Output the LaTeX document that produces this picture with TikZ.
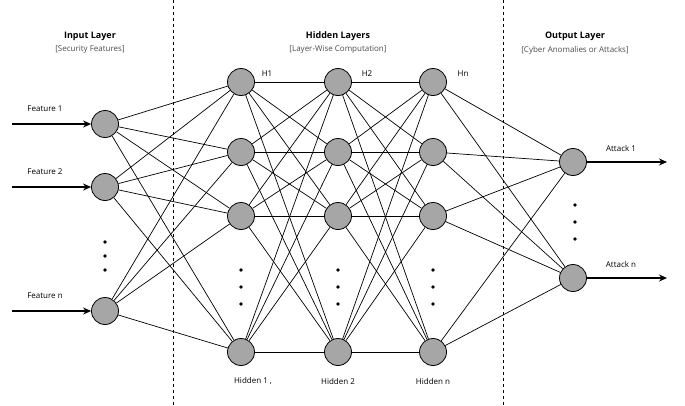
\documentclass[tikz,border=0pt]{standalone}
\usepackage{fontspec}
\setmainfont{Open Sans}
\usetikzlibrary{arrows.meta}
\begin{document}
\begin{tikzpicture}[x=1pt,y=-1pt,
  neuron/.style={circle,draw=black,fill=gray!70,line width=0.8pt,minimum size=27pt,inner sep=0pt},
  conn/.style={line width=0.7pt},
  inarrow/.style={line width=1.2pt,-{Stealth[length=8pt,width=7pt]}},
  lbl/.style={font=\fontsize{8}{9}\selectfont},
  head/.style={font=\fontsize{9}{10}\selectfont\bfseries},
  sub/.style={font=\fontsize{8}{9}\selectfont,text=black!70},
  dot/.style={circle,fill=black,inner sep=1.3pt}]
\useasboundingbox (0,0) rectangle (685,405);
\draw[dashed,line width=0.6pt] (173,0) -- (173,405);
\draw[dashed,line width=0.6pt] (503,0) -- (503,405);
\node[head] (t1) at (90,36) {Input Layer};
\node[sub] (s1) at (90,50) {[Security Features]};
\node[head] (t2) at (338,36) {Hidden Layers};
\node[sub] (s2) at (338,50) {[Layer-Wise Computation]};
\node[head] (t3) at (575,36) {Output Layer};
\node[sub] (s3) at (575,50) {[Cyber Anomalies or Attacks]};
% nodes
\foreach \n/\y in {1/124,2/187,3/311} \node[neuron] (i\n) at (105,\y) {};
\foreach \L/\x in {a/241,b/338,c/433}
  \foreach \n/\y in {1/82,2/152,3/216,4/352} \node[neuron] (\L\n) at (\x,\y) {};
\foreach \n/\y in {1/162,2/278} \node[neuron] (o\n) at (573,\y) {};
% connections
\begin{scope}[on background layer/.style={}]
\foreach \i in {1,2,3} \foreach \j in {1,2,3,4} \draw[conn] (i\i) -- (a\j);
\foreach \i in {1,2,3,4} \foreach \j in {1,2,3,4} {\draw[conn] (a\i) -- (b\j); \draw[conn] (b\i) -- (c\j);}
\foreach \i in {1,2,3,4} \foreach \j in {1,2} \draw[conn] (c\i) -- (o\j);
\end{scope}
% inputs
\foreach \n/\y/\t in {1/124/Feature 1,2/187/Feature 2,3/311/Feature n}{
  \coordinate (f\n) at (12,\y);
  \draw[inarrow] (f\n) -- (i\n);
  \node[lbl] (fl\n) at (45,\y-15) {\t};
}
\foreach \n/\y/\t in {1/162/Attack 1,2/278/Attack n}{
  \coordinate (e\n) at (667,\y);
  \draw[inarrow] (o\n) -- (e\n);
  \node[lbl] (al\n) at (621,\y-14) {\t};
}
% dots
\foreach \y [count=\k] in {242,256,270} \node[dot] (di\k) at (105,\y) {};
\foreach \x/\L in {241/a,338/b,433/c} \foreach \y [count=\k] in {270,287,304} \node[dot] (d\L\k) at (\x,\y) {};
\foreach \y [count=\k] in {205,222,239} \node[dot] (do\k) at (575,\y) {};
% labels
\node[lbl] (h1) at (267,74) {H1};
\node[lbl] (h2) at (367,74) {H2};
\node[lbl] (h3) at (463,74) {Hn};
\node[lbl] (hh1) at (253,381) {Hidden 1 ,};
\node[lbl] (hh2) at (338,381) {Hidden 2};
\node[lbl] (hh3) at (433,381) {Hidden n};
\end{tikzpicture}
\end{document}
